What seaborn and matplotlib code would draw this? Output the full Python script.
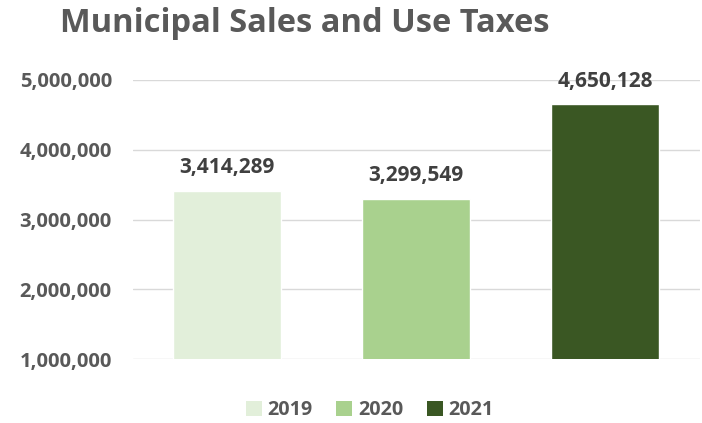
import matplotlib
matplotlib.use("Agg")
import matplotlib.pyplot as plt
import seaborn as sns
import pandas as pd
from matplotlib.ticker import FuncFormatter
from matplotlib.patches import Patch

years = ["2019", "2020", "2021"]
taxes = [3414289, 3299549, 4650128]
colors = ["#E2EFDA", "#A9D18E", "#3A5723"]
yticks = [1000000, 2000000, 3000000, 4000000, 5000000]

df = pd.DataFrame({"year": years, "tax": taxes})

sns.set_theme(style="white")
plt.rcParams['font.family'] = ['Open Sans', 'DejaVu Sans']

fig = plt.figure(figsize=(7.02, 4.23), dpi=100)
ax = fig.add_axes([0.189, 0.151, 0.808, 0.660])

sns.barplot(data=df, x="year", y="tax", hue="year", palette=colors,
            width=0.57, legend=False, ax=ax, saturation=1)

ax.set_ylim(1000000, 5000000)
ax.set_yticks(yticks)
ax.yaxis.set_major_formatter(FuncFormatter(lambda v, p: '{:,.0f}'.format(v)))
ax.set_xticks([])
ax.set_xlabel('')
ax.set_ylabel('')
ax.grid(axis='y', color='#D9D9D9', linewidth=1)
ax.set_axisbelow(True)
for s in ax.spines.values():
    s.set_visible(False)
ax.tick_params(axis='y', length=0, pad=15, labelsize=14.5, labelcolor='#595959')
for lbl in ax.get_yticklabels():
    lbl.set_fontweight('bold')

for c in ax.containers:
    ax.bar_label(c, labels=['{:,.0f}'.format(v) for v in c.datavalues],
                 padding=9, fontsize=15, fontweight='bold', color='#404040')

fig.text(305/702, 1 - 23/423, "Municipal Sales and Use Taxes", ha='center', va='center',
         fontsize=23.5, fontweight='bold', color='#595959')

handles = [Patch(facecolor=c, edgecolor='none') for c in colors]
leg = fig.legend(handles, years, loc='center', bbox_to_anchor=(370/702, 1 - 410/423),
                 ncol=3, frameon=False, fontsize=14.2, handlelength=0.8, handleheight=0.8,
                 handletextpad=0.3, columnspacing=1.2)
for t in leg.get_texts():
    t.set_color('#595959')
    t.set_fontweight('bold')

fig.savefig("out.png", dpi=100)
